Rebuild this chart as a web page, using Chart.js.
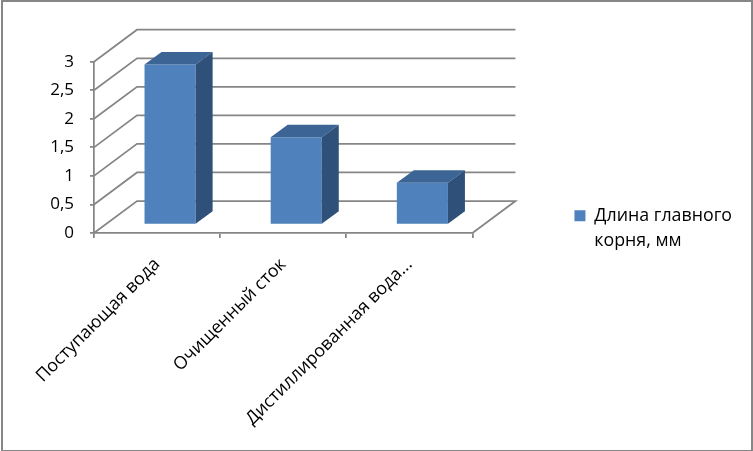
<!DOCTYPE html>
<html>
<head>
<meta charset="utf-8">
<script src="https://cdn.jsdelivr.net/npm/chart.js@4"></script>
<style>
  html, body { margin: 0; padding: 0; background: #fff; }
  #wrap { position: relative; width: 753px; height: 451px; overflow: hidden; }
  #frame { position: absolute; left: 1px; top: 0; width: 752px; height: 451px; box-sizing: border-box;
           border: 2px solid #868686; border-bottom-width: 1px; }
</style>
</head>
<body>
<div id="wrap">
  <canvas id="chart" width="753" height="451"></canvas>
  <div id="frame"></div>
</div>
<script>
/* data */
const categories = ['Поступающая вода', 'Очищенный сток', 'Дистиллированная вода...'];
const seriesName = ['Длина главного', 'корня, мм'];
const rootLength = [2.8, 1.53, 0.73];
const yTickLabels = ['0', '0,5', '1', '1,5', '2', '2,5', '3'];

const FONT = '"Open Sans"';
const AXIS = '#868686';

/* fake 3D: bars sit halfway into the floor, wall is further back */
const barShift = { x: 13, y: -8.5 };
const barDepth = { x: 17, y: -12.5 };
const wallDepth = { x: 43, y: -32 };
const legendLift = 24.5;

const fake3d = {
  id: 'fake3d',
  afterLayout(chart) {
    // x axis box runs to the canvas bottom so long labels are not clipped; keep legend up
    chart.legend.top -= legendLift;
    chart.legend.bottom -= legendLift;
  },
  beforeDatasetsDraw(chart) {
    const { ctx, scales: { x, y } } = chart;
    const d = wallDepth;
    ctx.save();
    ctx.strokeStyle = AXIS;
    ctx.lineWidth = 1.75;
    y.ticks.forEach(t => {
      const py = y.getPixelForValue(t.value);
      ctx.beginPath();
      ctx.moveTo(x.left, py);
      ctx.lineTo(x.left + d.x, py + d.y);
      ctx.lineTo(x.right + d.x, py + d.y);
      if (t.value === 0) ctx.lineTo(x.right, py);
      ctx.stroke();
    });
    ctx.restore();
  },
  beforeDatasetDraw(chart) {
    chart.ctx.save();
    chart.ctx.translate(barShift.x, barShift.y);
  },
  afterDatasetDraw(chart) {
    chart.ctx.restore();
  },
  afterDatasetsDraw(chart) {
    const ctx = chart.ctx;
    chart.getDatasetMeta(0).data.forEach(bar => {
      const r = bar.x + bar.width / 2 + barShift.x;
      const l = bar.x - bar.width / 2 + barShift.x;
      const t = bar.y + barShift.y;
      const b = bar.base + barShift.y;
      const dx = barDepth.x, dy = barDepth.y;
      // top face
      ctx.fillStyle = '#3c6494';
      ctx.beginPath();
      ctx.moveTo(l, t);
      ctx.lineTo(l + dx, t + dy);
      ctx.lineTo(r + dx, t + dy);
      ctx.lineTo(r, t);
      ctx.closePath();
      ctx.fill();
      // side face
      ctx.fillStyle = '#2f5079';
      ctx.beginPath();
      ctx.moveTo(r, t);
      ctx.lineTo(r + dx, t + dy);
      ctx.lineTo(r + dx, b + dy);
      ctx.lineTo(r, b);
      ctx.closePath();
      ctx.fill();
    });
  }
};

new Chart(document.getElementById('chart'), {
  type: 'bar',
  data: {
    labels: categories,
    datasets: [{
      label: seriesName,
      data: rootLength,
      backgroundColor: '#4f81bd',
      borderWidth: 0,
      barPercentage: 0.405,
      categoryPercentage: 1
    }]
  },
  plugins: [fake3d],
  options: {
    responsive: false,
    animation: false,
    devicePixelRatio: 1,
    layout: { padding: { left: 0, right: 11, top: 61.7, bottom: 0 } },
    scales: {
      x: {
        afterFit(s) { s.height = 218; },
        border: { color: AXIS, width: 1.75 },
        grid: { drawOnChartArea: false, color: AXIS, lineWidth: 1.75, tickLength: 5 },
        ticks: {
          color: '#000', font: { family: FONT, size: 17.8 },
          autoSkip: false, minRotation: 45, maxRotation: 45, padding: 16
        }
      },
      y: {
        min: 0, max: 3,
        afterFit(s) { s.width = 94; },
        border: { color: AXIS, width: 1.75 },
        grid: { drawOnChartArea: false, color: AXIS, lineWidth: 1.75, tickLength: 4 },
        ticks: {
          stepSize: 0.5, padding: 16, color: '#000', font: { family: FONT, size: 17 },
          callback: (v, i) => yTickLabels[i]
        }
      }
    },
    plugins: {
      title: { display: false },
      tooltip: { enabled: false },
      legend: {
        position: 'right',
        maxWidth: 280,
        labels: {
          color: '#000', font: { family: FONT, size: 17.8, lineHeight: 1.4 },
          boxWidth: 11, boxHeight: 11, padding: 102,
          generateLabels: () => [{ text: seriesName, fillStyle: '#4f81bd', strokeStyle: '#4f81bd', lineWidth: 0, datasetIndex: 0 }]
        }
      }
    }
  }
});
</script>
</body>
</html>
